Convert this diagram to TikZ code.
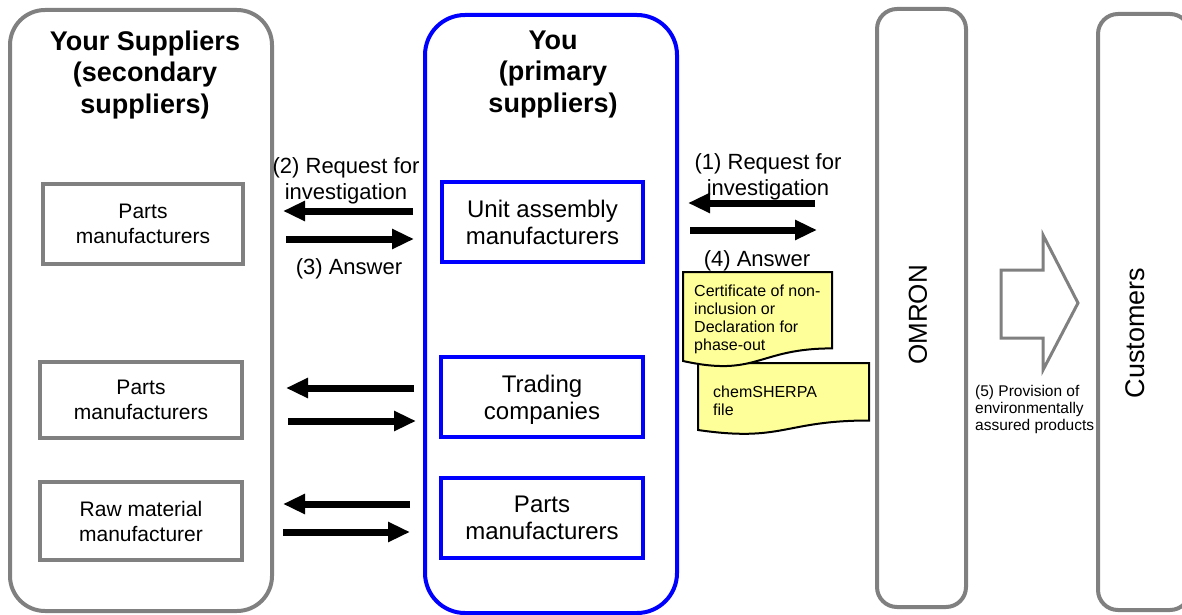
\documentclass[tikz,border=0pt]{standalone}
\usepackage{fontspec}
\setmainfont{Liberation Sans}
\usetikzlibrary{arrows.meta}
\definecolor{bxgray}{HTML}{808080}
\definecolor{bxblue}{HTML}{0000FF}
\definecolor{docyel}{HTML}{FFFF99}
\tikzset{
  graygroup/.style={draw=bxgray, line width=4pt, rounded corners=35pt, fill=white, inner sep=0pt},
  bluegroup/.style={draw=bxblue, line width=4pt, rounded corners=40pt, fill=white, inner sep=0pt},
  sidegroup/.style={draw=bxgray, line width=4pt, rounded corners=20pt, fill=white, inner sep=0pt},
  graybox/.style={draw=bxgray, line width=3.5pt, fill=white, align=center, inner sep=0pt, text depth=0pt,
    font=\fontsize{21}{25}\selectfont},
  bluebox/.style={draw=bxblue, line width=4.5pt, fill=white, align=center, inner sep=0pt, text depth=0pt,
    font=\fontsize{24}{27}\selectfont},
  titletext/.style={font=\bfseries\fontsize{27}{31.5}\selectfont, align=center, inner sep=0pt, anchor=north},
  flowlabel/.style={font=\fontsize{22}{26}\selectfont, align=center, inner sep=0pt, anchor=north},
  doctext/.style={font=\fontsize{16}{18}\selectfont, align=left, inner sep=0pt, anchor=north west},
  docshape/.style={draw=black, line width=2pt, fill=docyel, line join=miter},
  flowarrow/.style={line width=7pt, -{Triangle[length=22pt,width=19pt]}, draw=black},
  bigarrow/.style={draw=bxgray, line width=3pt, fill=white, line join=miter}
}
\begin{document}
\begin{tikzpicture}[x=1pt,y=-1pt]
\useasboundingbox (0,0) rectangle (1182,615);
\fill[white] (0,0) rectangle (1182,615);

% group containers
\node[graygroup, minimum width=262pt, minimum height=601pt] (left) at (141,310.5) {};
\node[bluegroup, minimum width=252pt, minimum height=598pt] (mid) at (551,314) {};
\node[sidegroup, minimum width=89pt, minimum height=598pt] (omron) at (921.5,308) {};
\node[sidegroup, minimum width=92pt, minimum height=596pt] (cust) at (1144,312) {};

% titles
\node[titletext] (lefttitle) at (145,30.5) {Your Suppliers\\(secondary\\suppliers)};
\node[titletext] (midtitle) at (553,30.5) {You\\(primary\\suppliers)};
\node[font=\fontsize{26}{30}\selectfont, rotate=90, inner sep=0pt] (omrontext) at (918,315) {OMRON};
\node[font=\fontsize{27}{30}\selectfont, rotate=90, inner sep=0pt] (custtext) at (1135,333) {Customers};

% left boxes
\node[graybox, minimum width=200pt, minimum height=80pt] (lp1) at (143,224) {Parts\\manufacturers};
\node[graybox, minimum width=202pt, minimum height=76pt] (lp2) at (141,400) {Parts\\manufacturers};
\node[graybox, minimum width=202pt, minimum height=78pt] (lraw) at (141,521) {Raw material\\manufacturer};

% middle boxes
\node[bluebox, minimum width=201pt, minimum height=80pt] (mu) at (542.5,222) {Unit assembly\\manufacturers};
\node[bluebox, minimum width=202pt, minimum height=80pt] (mt) at (542,397) {Trading\\companies};
\node[bluebox, minimum width=202pt, minimum height=80pt] (mp) at (542,518) {Parts\\manufacturers};

% arrow end points
\coordinate (a2s) at (413,211); \coordinate (a2e) at (283,211);
\coordinate (a3s) at (286,239); \coordinate (a3e) at (414,239);
\coordinate (b1s) at (414,388); \coordinate (b1e) at (286,388);
\coordinate (b2s) at (288,421); \coordinate (b2e) at (416,421);
\coordinate (c1s) at (410,504); \coordinate (c1e) at (283,504);
\coordinate (c2s) at (283,532); \coordinate (c2e) at (410,532);
\coordinate (o1s) at (815,203); \coordinate (o1e) at (688,203);
\coordinate (o2s) at (690,230); \coordinate (o2e) at (817,230);

\draw[flowarrow] (a2s) -- (a2e);
\draw[flowarrow] (a3s) -- (a3e);
\draw[flowarrow] (b1s) -- (b1e);
\draw[flowarrow] (b2s) -- (b2e);
\draw[flowarrow] (c1s) -- (c1e);
\draw[flowarrow] (c2s) -- (c2e);
\draw[flowarrow] (o1s) -- (o1e);
\draw[flowarrow] (o2s) -- (o2e);

% arrow labels
\node[flowlabel] (lab2) at (346,157) {(2) Request for\\investigation};
\node[flowlabel] (lab3) at (349,258) {(3) Answer};
\node[flowlabel] (lab1) at (768,153) {(1) Request for\\investigation};
\node[flowlabel] (lab4) at (757,250) {(4) Answer};

% documents
\draw[docshape] (698,363) -- (869,363) -- (869,420.5)
  .. controls (783.5,420.5) and (783.5,442.4) .. (698,430) -- cycle;
\draw[docshape] (683,272) -- (832,272) -- (832,348.4)
  .. controls (757.5,348.4) and (757.5,377.5) .. (683,361) -- cycle;
\node[doctext] (doc1) at (694,284.5) {Certificate of non-\\inclusion or\\Declaration for\\phase-out};
\node[doctext] (doc2) at (713,385.5) {chemSHERPA\\file};

% provision arrow
\draw[bigarrow] (1001,270) -- (1043,270) -- (1043,235) -- (1078,303) -- (1043,370) -- (1043,338) -- (1001,338) -- cycle;
\node[font=\fontsize{15.5}{17}\selectfont, align=left, inner sep=0pt, anchor=north west] (lab5) at (975,385)
  {(5) Provision of\\environmentally\\assured products};
\end{tikzpicture}
\end{document}
